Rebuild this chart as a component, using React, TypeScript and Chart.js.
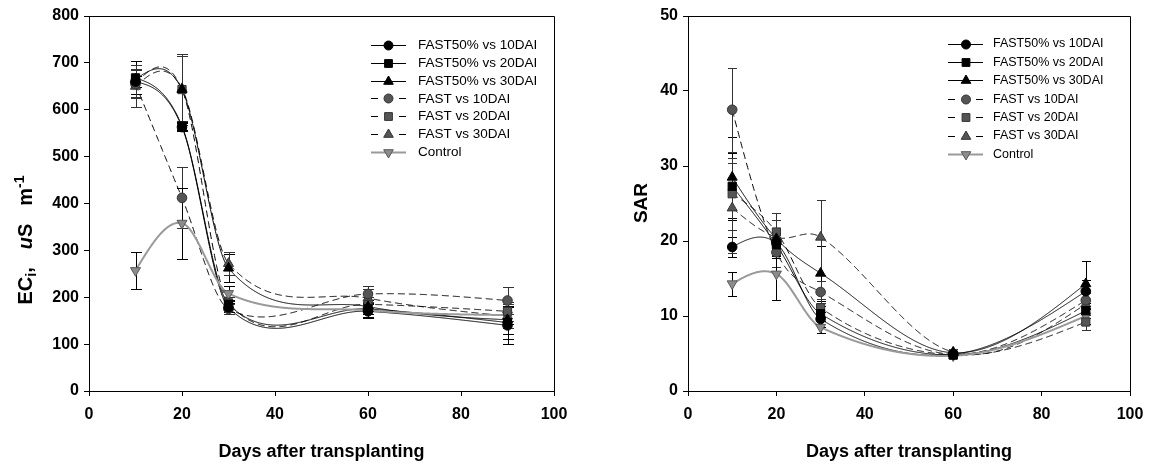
import React, { useEffect, useRef } from "react";
import { Chart, registerables } from "chart.js";

Chart.register(...registerables);

const FONT = "'Liberation Sans', Arial, Helvetica, sans-serif";

// ---------------- data ----------------
const days = [10, 20, 30, 60, 90];
const xTicks = [0, 20, 40, 60, 80, 100];
const ecTicks = [0, 100, 200, 300, 400, 500, 600, 700, 800];
const sarTicks = [0, 10, 20, 30, 40, 50];
const seriesLabels = [
  "FAST50% vs 10DAI",
  "FAST50% vs 20DAI",
  "FAST50% vs 30DAI",
  "FAST vs 10DAI",
  "FAST vs 20DAI",
  "FAST vs 30DAI",
  "Control",
];

// ECi (uS m-1)
const ecFast50_10 = [660, 563, 178, 170, 140];
const ecFast50_20 = [668, 565, 185, 175, 146];
const ecFast50_30 = [665, 643, 262, 180, 152];
const ecFast_10 = [655, 412, 175, 207, 193];
const ecFast_20 = [657, 643, 188, 185, 170];
const ecFast_30 = [650, 645, 272, 198, 160];
const ecControl = [257, 358, 208, 172, 162];

const ecErrFast50_10 = [12, 8, 10, 15, 40];
const ecErrFast50_20 = [35, 8, 10, 10, 35];
const ecErrFast50_30 = [40, 75, 30, 15, 30];
const ecErrFast_10 = [30, 65, 10, 18, 28];
const ecErrFast_20 = [30, 75, 12, 15, 20];
const ecErrFast_30 = [45, 70, 25, 20, 25];
const ecErrControl = [40, 76, 15, 15, 20];

// SAR
const sarFast50_10 = [19.2, 19.7, 9.6, 4.9, 13.3];
const sarFast50_20 = [27.3, 19.5, 10.3, 4.8, 10.7];
const sarFast50_30 = [28.5, 20.3, 15.7, 5.1, 14.3];
const sarFast_10 = [37.5, 18.5, 13.2, 4.9, 12.1];
const sarFast_20 = [26.3, 21.2, 11.1, 4.8, 9.2];
const sarFast_30 = [24.4, 20.5, 20.5, 5.2, 11.6];
const sarControl = [14.3, 15.6, 8.5, 4.7, 10.0];

const sarErrFast50_10 = [1.3, 1.5, 1.0, 0.3, 1.5];
const sarErrFast50_20 = [4.5, 1.5, 1.0, 0.3, 1.0];
const sarErrFast50_30 = [5.4, 2.5, 3.7, 0.3, 3.0];
const sarErrFast_10 = [5.6, 2.0, 1.5, 0.3, 1.0];
const sarErrFast_20 = [4.8, 2.5, 1.2, 0.3, 1.0];
const sarErrFast_30 = [6.0, 2.3, 5.0, 0.4, 1.5];
const sarErrControl = [1.6, 3.4, 0.8, 0.3, 1.0];

// ---------------- styles ----------------
type Style = {
  shape: string;
  fill: string;
  stroke: string;
  line: string;
  width: number;
  dash: number[];
  err: string;
};
const seriesStyles: Style[] = [
  { shape: "circle", fill: "#000", stroke: "#000", line: "#000", width: 1, dash: [], err: "#000" },
  { shape: "rect", fill: "#000", stroke: "#000", line: "#000", width: 1, dash: [], err: "#000" },
  { shape: "triangle", fill: "#000", stroke: "#000", line: "#000", width: 1, dash: [], err: "#000" },
  { shape: "circle", fill: "#555", stroke: "#333", line: "#000", width: 1, dash: [7, 4], err: "#333" },
  { shape: "rect", fill: "#555", stroke: "#333", line: "#000", width: 1, dash: [7, 4], err: "#333" },
  { shape: "triangle", fill: "#555", stroke: "#333", line: "#000", width: 1, dash: [7, 4], err: "#333" },
  { shape: "triangleDown", fill: "#8c8c8c", stroke: "#5a5a5a", line: "#9a9a9a", width: 2, dash: [], err: "#000" },
];

function makeDatasets(values: number[][], errors: number[][]) {
  return values.map((vals, i) => {
    const st = seriesStyles[i];
    return {
      label: seriesLabels[i],
      data: vals.map((v, j) => ({ x: days[j], y: v })),
      errors: errors[i],
      styleIndex: i,
      showLine: false,
      pointStyle: st.shape === "triangleDown" ? "triangle" : st.shape,
      pointRotation: st.shape === "triangleDown" ? 180 : 0,
      pointRadius: st.shape === "circle" ? 4.8 : 5.8,
      pointHoverRadius: st.shape === "circle" ? 4.8 : 5.8,
      pointBackgroundColor: st.fill,
      pointBorderColor: st.stroke,
      pointBorderWidth: 1,
      borderColor: st.line,
      backgroundColor: st.fill,
      borderWidth: st.width,
    };
  });
}

// smooth Hermite curve through the plotted (pixel) points
function curveFn(xs: number[], ys: number[]) {
  const n = xs.length;
  const m: number[] = new Array(n).fill(0);
  for (let i = 1; i < n - 1; i++) m[i] = (ys[i + 1] - ys[i - 1]) / (xs[i + 1] - xs[i - 1]);
  m[0] = (3 * (ys[1] - ys[0]) / (xs[1] - xs[0]) - m[1]) / 2;
  m[n - 1] = (3 * (ys[n - 1] - ys[n - 2]) / (xs[n - 1] - xs[n - 2]) - m[n - 2]) / 2;
  return (x: number) => {
    let j = 0;
    while (j < n - 2 && x > xs[j + 1]) j++;
    const h = xs[j + 1] - xs[j];
    const t = (x - xs[j]) / h;
    const t2 = t * t;
    const t3 = t2 * t;
    return (
      (2 * t3 - 3 * t2 + 1) * ys[j] +
      (t3 - 2 * t2 + t) * h * m[j] +
      (-2 * t3 + 3 * t2) * ys[j + 1] +
      (t3 - t2) * h * m[j + 1]
    );
  };
}

const curvesPlugin = {
  id: "curvesAndErrors",
  beforeDatasetsDraw(chart: any, _args: any, opts: any) {
    const ctx = chart.ctx;
    const area = chart.chartArea;
    const yScale = chart.scales.y;
    // frame (top and right)
    ctx.save();
    ctx.strokeStyle = "#000";
    ctx.lineWidth = 1;
    ctx.beginPath();
    ctx.moveTo(area.left, area.top + 0.5);
    ctx.lineTo(area.right + 0.5, area.top + 0.5);
    ctx.lineTo(area.right + 0.5, area.bottom);
    ctx.stroke();
    ctx.restore();

    ctx.save();
    ctx.beginPath();
    ctx.rect(area.left, area.top, area.right - area.left, area.bottom - area.top);
    ctx.clip();
    chart.data.datasets.forEach((ds: any, i: number) => {
      const meta = chart.getDatasetMeta(i);
      const st = seriesStyles[ds.styleIndex];
      const xs = meta.data.map((p: any) => p.x);
      const ys = meta.data.map((p: any) => p.y);
      const f = curveFn(xs, ys);
      ctx.strokeStyle = st.line;
      ctx.lineWidth = st.width;
      ctx.setLineDash(st.dash);
      ctx.beginPath();
      ctx.moveTo(xs[0], ys[0]);
      for (let x = xs[0]; x <= xs[xs.length - 1]; x += 0.5) ctx.lineTo(x, f(x));
      ctx.lineTo(xs[xs.length - 1], ys[ys.length - 1]);
      ctx.stroke();
    });
    ctx.setLineDash([]);
    // error bars
    const cap = opts.cap || 5;
    chart.data.datasets.forEach((ds: any, i: number) => {
      const meta = chart.getDatasetMeta(i);
      const st = seriesStyles[ds.styleIndex];
      ctx.strokeStyle = st.err;
      ctx.lineWidth = 1;
      ds.data.forEach((pt: any, j: number) => {
        const e = ds.errors[j];
        const x = Math.round(meta.data[j].x) + 0.5;
        const yt = Math.round(yScale.getPixelForValue(pt.y + e)) + 0.5;
        const yb = Math.round(yScale.getPixelForValue(pt.y - e)) + 0.5;
        ctx.beginPath();
        ctx.moveTo(x, yt);
        ctx.lineTo(x, yb);
        ctx.moveTo(x - cap, yt);
        ctx.lineTo(x + cap, yt);
        ctx.moveTo(x - cap, yb);
        ctx.lineTo(x + cap, yb);
        ctx.stroke();
      });
    });
    ctx.restore();
  },
};

function drawMarker(ctx: CanvasRenderingContext2D, shape: string, x: number, y: number, fill: string, stroke: string) {
  ctx.beginPath();
  if (shape === "circle") {
    ctx.arc(x, y, 4.5, 0, Math.PI * 2);
  } else if (shape === "rect") {
    ctx.rect(x - 3.9, y - 3.9, 7.8, 7.8);
  } else if (shape === "triangle") {
    ctx.moveTo(x, y - 5.5);
    ctx.lineTo(x + 4.8, y + 2.8);
    ctx.lineTo(x - 4.8, y + 2.8);
    ctx.closePath();
  } else {
    ctx.moveTo(x, y + 5.5);
    ctx.lineTo(x + 4.8, y - 2.8);
    ctx.lineTo(x - 4.8, y - 2.8);
    ctx.closePath();
  }
  ctx.fillStyle = fill;
  ctx.fill();
  ctx.strokeStyle = stroke;
  ctx.lineWidth = 1;
  ctx.stroke();
}

const legendPlugin = {
  id: "boxLegend",
  afterDraw(chart: any, _args: any, o: any) {
    const ctx = chart.ctx;
    ctx.save();
    ctx.font = `${o.fontSize}px ${FONT}`;
    ctx.textBaseline = "middle";
    ctx.textAlign = "left";
    chart.data.datasets.forEach((ds: any, i: number) => {
      const st = seriesStyles[ds.styleIndex];
      const y = o.y0 + o.dy * i;
      const yy = Math.round(y) + 0.5;
      ctx.strokeStyle = st.line;
      ctx.lineWidth = st.width;
      ctx.beginPath();
      if (st.dash.length) {
        ctx.moveTo(o.x1, yy);
        ctx.lineTo(o.x1 + 7, yy);
        ctx.moveTo(o.x2 - 7, yy);
        ctx.lineTo(o.x2, yy);
      } else {
        ctx.moveTo(o.x1, yy);
        ctx.lineTo(o.x2, yy);
      }
      ctx.stroke();
      drawMarker(ctx, st.shape, o.mx, yy, st.fill, st.stroke);
      ctx.fillStyle = "#000";
      ctx.fillText(ds.label, o.tx, y + 0.5);
    });
    ctx.restore();
  },
};

type Part = { t: string; size: number; style?: string; dy?: number; gap?: number };

const titlesPlugin = {
  id: "axisTitles",
  afterDraw(chart: any, _args: any, o: any) {
    const ctx = chart.ctx;
    const area = chart.chartArea;
    ctx.save();
    ctx.fillStyle = "#000";
    ctx.font = `bold 18px ${FONT}`;
    ctx.textAlign = "center";
    ctx.textBaseline = "alphabetic";
    ctx.fillText(o.xTitle, (area.left + area.right) / 2, o.xTitleY);
    // rotated y title made of parts
    const parts: Part[] = o.yParts;
    const fontOf = (p: Part) => `${p.style || ""} bold ${p.size}px ${FONT}`;
    let total = 0;
    parts.forEach((p) => {
      ctx.font = fontOf(p);
      total += ctx.measureText(p.t).width + (p.gap || 0);
    });
    ctx.translate(o.yTitleX, o.yTitleY);
    ctx.rotate(-Math.PI / 2);
    ctx.textAlign = "left";
    let x = -total / 2;
    parts.forEach((p) => {
      ctx.font = fontOf(p);
      ctx.fillText(p.t, x, 6.5 + (p.dy || 0));
      x += ctx.measureText(p.t).width + (p.gap || 0);
    });
    ctx.restore();
  },
};

function makeConfig(opts: {
  datasets: any[];
  yMax: number;
  yTicks: number[];
  yWidth: number;
  padRight: number;
  legend: any;
  titles: any;
  cap: number;
}) {
  return {
    type: "line",
    data: { datasets: opts.datasets },
    plugins: [curvesPlugin, legendPlugin, titlesPlugin],
    options: {
      responsive: false,
      animation: false,
      devicePixelRatio: 1,
      events: [],
      layout: { padding: { left: 0, top: 16, right: opts.padRight, bottom: 0 } },
      plugins: {
        legend: { display: false },
        tooltip: { enabled: false },
        boxLegend: opts.legend,
        axisTitles: opts.titles,
        curvesAndErrors: { cap: opts.cap },
      },
      scales: {
        x: {
          type: "linear",
          min: 0,
          max: 100,
          afterBuildTicks: (s: any) => {
            s.ticks = xTicks.map((v) => ({ value: v }));
          },
          ticks: { font: { size: 16, weight: "bold", family: FONT }, color: "#000", padding: 9, maxRotation: 0 },
          grid: { drawOnChartArea: false, drawTicks: true, tickLength: 5, color: "#000", tickColor: "#000" },
          border: { display: true, color: "#000", width: 1 },
          afterFit: (s: any) => {
            s.height = 75;
            s.paddingLeft = 0;
            s.paddingRight = 0;
          },
        },
        y: {
          type: "linear",
          min: 0,
          max: opts.yMax,
          afterBuildTicks: (s: any) => {
            s.ticks = opts.yTicks.map((v) => ({ value: v }));
          },
          ticks: { font: { size: 16, weight: "bold", family: FONT }, color: "#000", padding: 5 },
          grid: { drawOnChartArea: false, drawTicks: true, tickLength: 5, color: "#000", tickColor: "#000" },
          border: { display: true, color: "#000", width: 1 },
          afterFit: (s: any) => {
            s.width = opts.yWidth;
            s.paddingTop = 0;
            s.paddingBottom = 0;
          },
        },
      },
    },
  };
}

function Panel(props: { left: number; width: number; build: () => any }) {
  const ref = useRef<HTMLCanvasElement | null>(null);
  useEffect(() => {
    const chart = new Chart(ref.current as HTMLCanvasElement, props.build());
    return () => chart.destroy();
  }, []);
  return (
    <canvas
      ref={ref}
      width={props.width}
      height={466}
      style={{ position: "fixed", left: props.left, top: 0, width: props.width, height: 466, display: "block" }}
    />
  );
}

export default function App() {
  const buildEC = () =>
    makeConfig({
      datasets: makeDatasets(
        [ecFast50_10, ecFast50_20, ecFast50_30, ecFast_10, ecFast_20, ecFast_30, ecControl],
        [ecErrFast50_10, ecErrFast50_20, ecErrFast50_30, ecErrFast_10, ecErrFast_20, ecErrFast_30, ecErrControl]
      ),
      yMax: 800,
      yTicks: ecTicks,
      yWidth: 89,
      padRight: 21,
      cap: 5.5,
      legend: { x1: 371, x2: 406, mx: 388.5, tx: 418, y0: 45, dy: 17.8, fontSize: 13.5 },
      titles: {
        xTitle: "Days after transplanting",
        xTitleY: 457,
        yTitleX: 25,
        yTitleY: 240,
        yParts: [
          { t: "EC", size: 20 },
          { t: "i", size: 14, dy: 4 },
          { t: ",", size: 20, gap: 18 },
          { t: "u", size: 20, style: "italic" },
          { t: "S", size: 20, gap: 18 },
          { t: "m", size: 20 },
          { t: "-1", size: 14, dy: -8 },
        ],
      },
    });
  const buildSAR = () =>
    makeConfig({
      datasets: makeDatasets(
        [sarFast50_10, sarFast50_20, sarFast50_30, sarFast_10, sarFast_20, sarFast_30, sarControl],
        [sarErrFast50_10, sarErrFast50_20, sarErrFast50_30, sarErrFast_10, sarErrFast_20, sarErrFast_30, sarErrControl]
      ),
      yMax: 50,
      yTicks: sarTicks,
      yWidth: 113,
      padRight: 19,
      cap: 4.5,
      legend: { x1: 373, x2: 408, mx: 391, tx: 418, y0: 43.5, dy: 18.4, fontSize: 12.5 },
      titles: {
        xTitle: "Days after transplanting",
        xTitleY: 457,
        yTitleX: 65,
        yTitleY: 203,
        yParts: [{ t: "SAR", size: 19 }],
      },
    });
  return (
    <div>
      <Panel left={0} width={575} build={buildEC} />
      <Panel left={575} width={574} build={buildSAR} />
    </div>
  );
}
